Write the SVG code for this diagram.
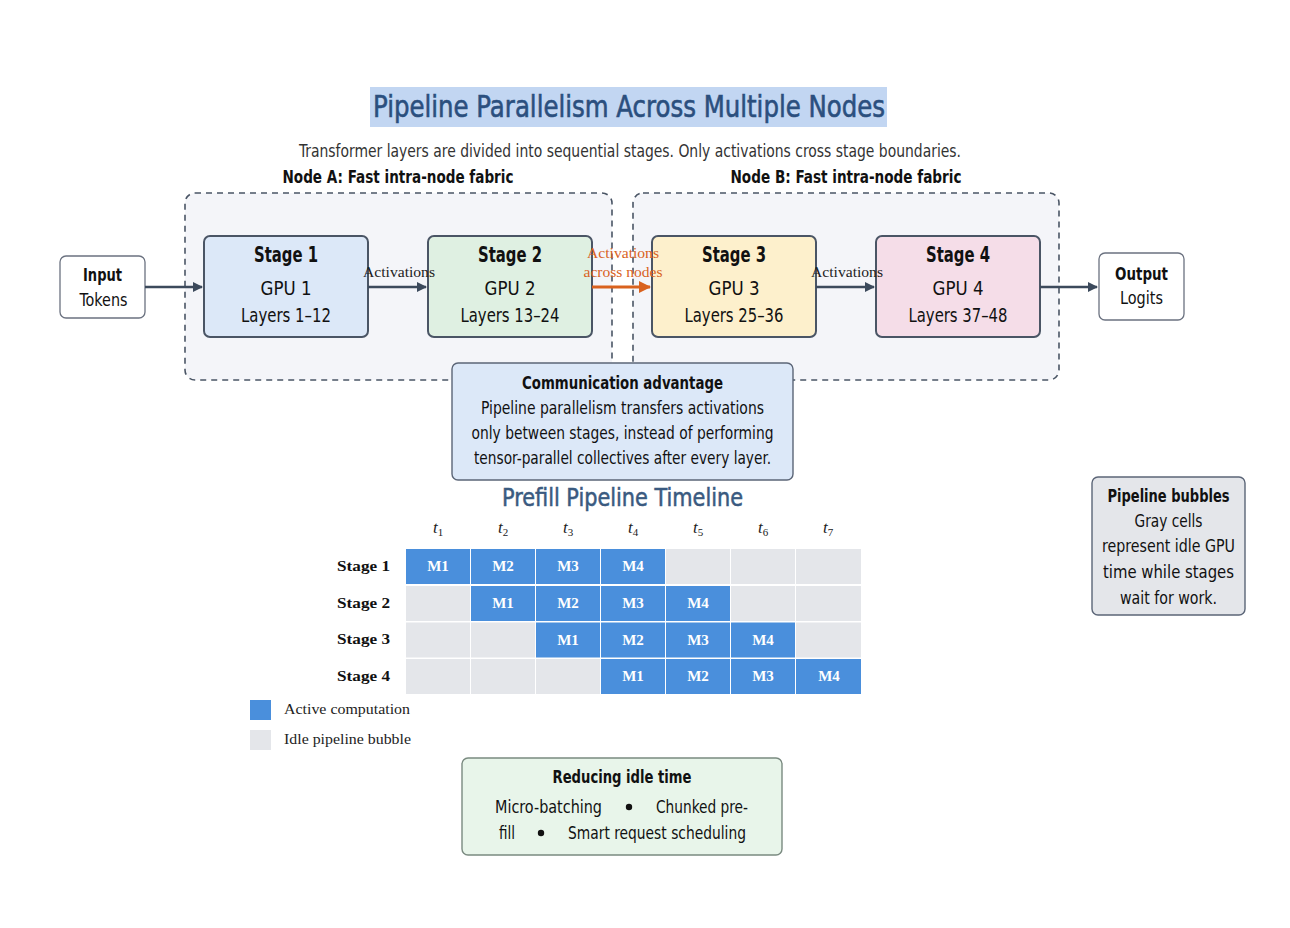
<svg xmlns="http://www.w3.org/2000/svg" width="1290" height="928" viewBox="0 0 1290 928">
<defs>
<style>
.sans{font-family:"Liberation Sans Narrow","DejaVu Sans Condensed","Liberation Sans",sans-serif;}
.serif{font-family:"Liberation Serif","DejaVu Serif",serif;}
.b{font-weight:bold;}
.c{text-anchor:middle;}
.node{stroke:#4a5565;stroke-width:2;}
.plain{fill:#fff;stroke:#6b7280;stroke-width:1.3;}
.fabric{fill:#f4f5f9;stroke:#4a5565;stroke-width:1.6;stroke-dasharray:6 5;}
.edge{stroke:#3c4a5c;stroke-width:2.6;fill:none;}
.xedge{stroke:#d9621e;stroke-width:3.2;fill:none;}
.act{fill:#4a8fdc;}
.idle{fill:#e4e6ea;}
.cellt{font-family:"Liberation Serif",serif;font-weight:bold;font-size:15px;fill:#fff;text-anchor:middle;}
.note{stroke:#5b6577;stroke-width:1.4;}
</style>
<marker id="ah" markerWidth="10" markerHeight="10" refX="9" refY="5" orient="auto" markerUnits="userSpaceOnUse" viewBox="0 0 10 10"><path d="M0,0 L10,5 L0,10 z" fill="#3c4a5c"/></marker>
<marker id="aho" markerWidth="12" markerHeight="12" refX="11" refY="6" orient="auto" markerUnits="userSpaceOnUse" viewBox="0 0 12 12"><path d="M0,0 L12,6 L0,12 z" fill="#d9621e"/></marker>
</defs>
<rect width="1290" height="928" fill="#fff"/>

<g id="title">
<rect x="370" y="87" width="517" height="40" fill="#c2d6f2"/>
<text x="629" y="117" class="sans c" font-size="31" fill="#2b4f7e" stroke="#2b4f7e" stroke-width="0.6" textLength="512" lengthAdjust="spacingAndGlyphs">Pipeline Parallelism Across Multiple Nodes</text>
<text x="630" y="157" class="sans c" font-size="17" fill="#333" textLength="662" lengthAdjust="spacingAndGlyphs">Transformer layers are divided into sequential stages. Only activations cross stage boundaries.</text>
</g>

<g id="nodeA">
<rect x="185" y="193" width="427" height="187" rx="10" class="fabric"/>
<text x="398" y="183" class="sans b c" font-size="18" fill="#111" textLength="231" lengthAdjust="spacingAndGlyphs">Node A: Fast intra-node fabric</text>
</g>
<g id="nodeB">
<rect x="633" y="193" width="426" height="187" rx="10" class="fabric"/>
<text x="846" y="183" class="sans b c" font-size="18" fill="#111" textLength="231" lengthAdjust="spacingAndGlyphs">Node B: Fast intra-node fabric</text>
</g>

<g id="input">
<rect x="60" y="256" width="85" height="62" rx="6" class="plain"/>
<text x="102.5" y="281" class="sans b c" font-size="18" fill="#111" textLength="39" lengthAdjust="spacingAndGlyphs">Input</text>
<text x="103.5" y="306" class="sans c" font-size="18" fill="#111" textLength="48" lengthAdjust="spacingAndGlyphs">Tokens</text>
</g>
<g id="stage1">
<rect x="204" y="236" width="164" height="101" rx="6" fill="#dce8f8" class="node"/>
<text x="286" y="262" class="sans b c" font-size="21" fill="#111" textLength="64" lengthAdjust="spacingAndGlyphs">Stage 1</text>
<text x="286" y="295" class="sans c" font-size="20" fill="#111" textLength="51" lengthAdjust="spacingAndGlyphs">GPU 1</text>
<text x="286" y="322" class="sans c" font-size="20" fill="#111" textLength="90" lengthAdjust="spacingAndGlyphs">Layers 1–12</text>
</g>
<g id="stage2">
<rect x="428" y="236" width="164" height="101" rx="6" fill="#dff0e2" class="node"/>
<text x="510" y="262" class="sans b c" font-size="21" fill="#111" textLength="64" lengthAdjust="spacingAndGlyphs">Stage 2</text>
<text x="510" y="295" class="sans c" font-size="20" fill="#111" textLength="51" lengthAdjust="spacingAndGlyphs">GPU 2</text>
<text x="510" y="322" class="sans c" font-size="20" fill="#111" textLength="99" lengthAdjust="spacingAndGlyphs">Layers 13–24</text>
</g>
<g id="stage3">
<rect x="652" y="236" width="164" height="101" rx="6" fill="#fdf0cc" class="node"/>
<text x="734" y="262" class="sans b c" font-size="21" fill="#111" textLength="64" lengthAdjust="spacingAndGlyphs">Stage 3</text>
<text x="734" y="295" class="sans c" font-size="20" fill="#111" textLength="51" lengthAdjust="spacingAndGlyphs">GPU 3</text>
<text x="734" y="322" class="sans c" font-size="20" fill="#111" textLength="99" lengthAdjust="spacingAndGlyphs">Layers 25–36</text>
</g>
<g id="stage4">
<rect x="876" y="236" width="164" height="101" rx="6" fill="#f5dde8" class="node"/>
<text x="958" y="262" class="sans b c" font-size="21" fill="#111" textLength="64" lengthAdjust="spacingAndGlyphs">Stage 4</text>
<text x="958" y="295" class="sans c" font-size="20" fill="#111" textLength="51" lengthAdjust="spacingAndGlyphs">GPU 4</text>
<text x="958" y="322" class="sans c" font-size="20" fill="#111" textLength="99" lengthAdjust="spacingAndGlyphs">Layers 37–48</text>
</g>
<g id="output">
<rect x="1099" y="253" width="85" height="67" rx="6" class="plain"/>
<text x="1141.5" y="280" class="sans b c" font-size="18" fill="#111" textLength="53" lengthAdjust="spacingAndGlyphs">Output</text>
<text x="1141.5" y="304" class="sans c" font-size="18" fill="#111" textLength="43" lengthAdjust="spacingAndGlyphs">Logits</text>
</g>

<g id="connectors">
<line x1="145" y1="287" x2="202" y2="287" class="edge" marker-end="url(#ah)"/>
<line x1="368" y1="287" x2="426" y2="287" class="edge" marker-end="url(#ah)"/>
<line x1="592" y1="287" x2="650" y2="287" class="xedge" marker-end="url(#aho)"/>
<line x1="816" y1="287" x2="874" y2="287" class="edge" marker-end="url(#ah)"/>
<line x1="1040" y1="287" x2="1097" y2="287" class="edge" marker-end="url(#ah)"/>
<text x="399" y="277" class="serif c" font-size="14" fill="#222" textLength="72" lengthAdjust="spacingAndGlyphs">Activations</text>
<text x="623" y="258" class="serif c" font-size="14" fill="#d9621e" textLength="72" lengthAdjust="spacingAndGlyphs">Activations</text>
<text x="623" y="277" class="serif c" font-size="14" fill="#d9621e" textLength="79" lengthAdjust="spacingAndGlyphs">across nodes</text>
<text x="847" y="277" class="serif c" font-size="14" fill="#222" textLength="72" lengthAdjust="spacingAndGlyphs">Activations</text>
</g>

<g id="commNote">
<rect x="452" y="363" width="341" height="117" rx="6" fill="#dce8f8" class="note"/>
<text x="622.5" y="389" class="sans b c" font-size="17" fill="#111" textLength="201" lengthAdjust="spacingAndGlyphs">Communication advantage</text>
<text x="622.5" y="414" class="sans c" font-size="17" fill="#111" textLength="283" lengthAdjust="spacingAndGlyphs">Pipeline parallelism transfers activations</text>
<text x="622.5" y="439" class="sans c" font-size="17" fill="#111" textLength="302" lengthAdjust="spacingAndGlyphs">only between stages, instead of performing</text>
<text x="622.5" y="464" class="sans c" font-size="17" fill="#111" textLength="297" lengthAdjust="spacingAndGlyphs">tensor-parallel collectives after every layer.</text>
</g>

<g id="timeline">
<text x="622.5" y="506" class="sans c" font-size="24" fill="#3a5a80" stroke="#3a5a80" stroke-width="0.5" textLength="241" lengthAdjust="spacingAndGlyphs">Prefill Pipeline Timeline</text>
<g class="serif" font-size="17" fill="#222" font-style="italic">
<text x="433" y="533">t<tspan font-size="11" dy="3" font-style="normal">1</tspan></text>
<text x="498" y="533">t<tspan font-size="11" dy="3" font-style="normal">2</tspan></text>
<text x="563" y="533">t<tspan font-size="11" dy="3" font-style="normal">3</tspan></text>
<text x="628" y="533">t<tspan font-size="11" dy="3" font-style="normal">4</tspan></text>
<text x="693" y="533">t<tspan font-size="11" dy="3" font-style="normal">5</tspan></text>
<text x="758" y="533">t<tspan font-size="11" dy="3" font-style="normal">6</tspan></text>
<text x="823" y="533">t<tspan font-size="11" dy="3" font-style="normal">7</tspan></text>
</g>
<g class="serif b" font-size="15" fill="#111" text-anchor="end">
<text x="390" y="571" textLength="53" lengthAdjust="spacingAndGlyphs">Stage 1</text>
<text x="390" y="608" textLength="53" lengthAdjust="spacingAndGlyphs">Stage 2</text>
<text x="390" y="644" textLength="53" lengthAdjust="spacingAndGlyphs">Stage 3</text>
<text x="390" y="681" textLength="53" lengthAdjust="spacingAndGlyphs">Stage 4</text>
</g>
<!-- row 1 -->
<rect x="406" y="549" width="64" height="35" class="act"/>
<rect x="471" y="549" width="64" height="35" class="act"/>
<rect x="536" y="549" width="64" height="35" class="act"/>
<rect x="601" y="549" width="64" height="35" class="act"/>
<rect x="666" y="549" width="64" height="35" class="idle"/>
<rect x="731" y="549" width="64" height="35" class="idle"/>
<rect x="796" y="549" width="65" height="35" class="idle"/>
<!-- row 2 -->
<rect x="406" y="586" width="64" height="35" class="idle"/>
<rect x="471" y="586" width="64" height="35" class="act"/>
<rect x="536" y="586" width="64" height="35" class="act"/>
<rect x="601" y="586" width="64" height="35" class="act"/>
<rect x="666" y="586" width="64" height="35" class="act"/>
<rect x="731" y="586" width="64" height="35" class="idle"/>
<rect x="796" y="586" width="65" height="35" class="idle"/>
<!-- row 3 -->
<rect x="406" y="622.5" width="64" height="35" class="idle"/>
<rect x="471" y="622.5" width="64" height="35" class="idle"/>
<rect x="536" y="622.5" width="64" height="35" class="act"/>
<rect x="601" y="622.5" width="64" height="35" class="act"/>
<rect x="666" y="622.5" width="64" height="35" class="act"/>
<rect x="731" y="622.5" width="64" height="35" class="act"/>
<rect x="796" y="622.5" width="65" height="35" class="idle"/>
<!-- row 4 -->
<rect x="406" y="659" width="64" height="35" class="idle"/>
<rect x="471" y="659" width="64" height="35" class="idle"/>
<rect x="536" y="659" width="64" height="35" class="idle"/>
<rect x="601" y="659" width="64" height="35" class="act"/>
<rect x="666" y="659" width="64" height="35" class="act"/>
<rect x="731" y="659" width="64" height="35" class="act"/>
<rect x="796" y="659" width="65" height="35" class="act"/>
<text x="438" y="571" class="cellt">M1</text>
<text x="503" y="571" class="cellt">M2</text>
<text x="568" y="571" class="cellt">M3</text>
<text x="633" y="571" class="cellt">M4</text>
<text x="503" y="608" class="cellt">M1</text>
<text x="568" y="608" class="cellt">M2</text>
<text x="633" y="608" class="cellt">M3</text>
<text x="698" y="608" class="cellt">M4</text>
<text x="568" y="644.5" class="cellt">M1</text>
<text x="633" y="644.5" class="cellt">M2</text>
<text x="698" y="644.5" class="cellt">M3</text>
<text x="763" y="644.5" class="cellt">M4</text>
<text x="633" y="681" class="cellt">M1</text>
<text x="698" y="681" class="cellt">M2</text>
<text x="763" y="681" class="cellt">M3</text>
<text x="829" y="681" class="cellt">M4</text>
</g>

<g id="legend">
<rect x="250" y="700" width="21" height="20" class="act"/>
<text x="284" y="714" class="serif" font-size="14" fill="#222" textLength="126" lengthAdjust="spacingAndGlyphs">Active computation</text>
<rect x="250" y="730" width="21" height="20" class="idle"/>
<text x="284" y="744" class="serif" font-size="14" fill="#222" textLength="127" lengthAdjust="spacingAndGlyphs">Idle pipeline bubble</text>
</g>

<g id="bubblesNote">
<rect x="1092" y="477" width="153" height="138" rx="6" fill="#e4e6ea" class="note"/>
<text x="1168.5" y="502" class="sans b c" font-size="17" fill="#111" textLength="122" lengthAdjust="spacingAndGlyphs">Pipeline bubbles</text>
<text x="1168.5" y="527" class="sans c" font-size="17" fill="#111" textLength="68" lengthAdjust="spacingAndGlyphs">Gray cells</text>
<text x="1168.5" y="552" class="sans c" font-size="17" fill="#111" textLength="133" lengthAdjust="spacingAndGlyphs">represent idle GPU</text>
<text x="1168.5" y="578" class="sans c" font-size="17" fill="#111" textLength="131" lengthAdjust="spacingAndGlyphs">time while stages</text>
<text x="1168.5" y="604" class="sans c" font-size="17" fill="#111" textLength="97" lengthAdjust="spacingAndGlyphs">wait for work.</text>
</g>

<g id="idleNote">
<rect x="462" y="758" width="320" height="97" rx="6" fill="#e8f5ea" stroke="#7a8a80" stroke-width="1.4"/>
<text x="622" y="783" class="sans b c" font-size="17" fill="#111" textLength="139" lengthAdjust="spacingAndGlyphs">Reducing idle time</text>
<text x="495" y="813" class="sans" font-size="18" fill="#111" textLength="107" lengthAdjust="spacingAndGlyphs">Micro-batching</text>
<circle cx="629" cy="807" r="3.2" fill="#111"/>
<text x="656" y="813" class="sans" font-size="18" fill="#111" textLength="92" lengthAdjust="spacingAndGlyphs">Chunked pre-</text>
<text x="499" y="839" class="sans" font-size="18" fill="#111" textLength="16" lengthAdjust="spacingAndGlyphs">fill</text>
<circle cx="541" cy="833" r="3.2" fill="#111"/>
<text x="568" y="839" class="sans" font-size="18" fill="#111" textLength="178" lengthAdjust="spacingAndGlyphs">Smart request scheduling</text>
</g>
</svg>
